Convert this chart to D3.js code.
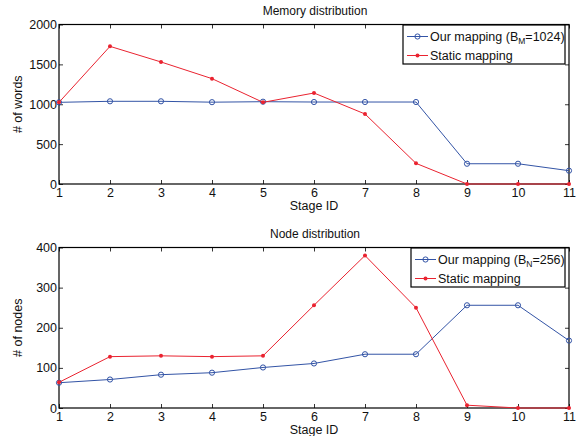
<!DOCTYPE html>
<html>
<head>
<meta charset="utf-8">
<script src="https://cdn.jsdelivr.net/npm/d3@7"></script>
<style>
  body { margin: 0; background: #fff; }
  svg text { font-family: "Liberation Sans", Arial, sans-serif; fill: #111; }
</style>
</head>
<body>
<div id="vis"></div>
<script>
// stage ids shared by both panels
const stages = [1, 2, 3, 4, 5, 6, 7, 8, 9, 10, 11];

// memory distribution (# of words)
const memOurs = [1024, 1037, 1037, 1026, 1032, 1028, 1028, 1028, 254, 254, 167];
const memStatic = [1024, 1726, 1530, 1321, 1024, 1141, 878, 259, 0, 0, 0];
const memTicks = [0, 500, 1000, 1500, 2000];

// node distribution (# of nodes)
const nodeOurs = [63, 71, 83, 88, 101, 111, 134, 134, 256, 256, 168];
const nodeStatic = [64, 128, 130, 128, 130, 256, 380, 250, 7, 0, 0];
const nodeTicks = [0, 100, 200, 300, 400];

let width = 579;
let height = 436;
let blue = '#3354a6';
let red = '#ea2330';

let svg = d3.select('#vis').append('svg')
  .attr('width', width)
  .attr('height', height);

/**
 * drawPanel - one matlab style axes box with two series
 */
function drawPanel(opts) {
  let left = 59, right = 569;
  let top = opts.top, bottom = opts.bottom;

  let x = d3.scaleLinear().domain([1, 11]).range([left, right]);
  let y = d3.scaleLinear().domain([0, opts.yMax]).range([bottom, top]);

  let g = svg.append('g');

  // title
  g.append('text')
    .attr('x', (left + right) / 2 + 1)
    .attr('y', top - 10)
    .attr('text-anchor', 'middle')
    .style('font-size', '12px')
    .text(opts.title);

  // axes box
  g.append('rect')
    .attr('x', left).attr('y', top)
    .attr('width', right - left).attr('height', bottom - top)
    .attr('fill', 'none')
    .attr('stroke', '#000')
    .attr('stroke-width', 1.2);

  // inward ticks: bottom/top and left/right
  let xAxis = d3.axisBottom(x).tickValues(stages).tickSize(-4).tickPadding(4);
  let xAxisTop = d3.axisTop(x).tickValues(stages).tickSize(-4).tickFormat('');
  let yAxis = d3.axisLeft(y).tickValues(opts.ticks).tickSize(-4).tickPadding(2)
    .tickFormat(d3.format('d'));
  let yAxisRight = d3.axisRight(y).tickValues(opts.ticks).tickSize(-4).tickFormat('');

  let gx = g.append('g').attr('transform', 'translate(0,' + bottom + ')').call(xAxis);
  g.append('g').attr('transform', 'translate(0,' + top + ')').call(xAxisTop);
  let gy = g.append('g').attr('transform', 'translate(' + left + ',0)').call(yAxis);
  g.append('g').attr('transform', 'translate(' + right + ',0)').call(yAxisRight);

  g.selectAll('.domain').remove();
  g.selectAll('.tick line').attr('stroke', '#000').attr('stroke-width', 0.8);
  gx.selectAll('text').style('font-size', '12.5px').attr('dy', '0.75em');
  gy.selectAll('text').style('font-size', '12.5px');

  // axis labels
  g.append('text')
    .attr('x', (left + right) / 2)
    .attr('y', bottom + 26)
    .attr('text-anchor', 'middle')
    .style('font-size', '12.5px')
    .text('Stage ID');

  g.append('text')
    .attr('transform', 'translate(22,' + (top + bottom) / 2 + ') rotate(-90)')
    .attr('text-anchor', 'middle')
    .style('font-size', '12.5px')
    .text(opts.yLabel);

  let line = d3.line()
    .x((d, i) => x(stages[i]))
    .y(d => y(d));

  // our mapping (blue, open circles)
  g.append('path')
    .attr('d', line(opts.ours))
    .attr('fill', 'none')
    .attr('stroke', blue)
    .attr('stroke-width', 1);
  g.selectAll('.ours').data(opts.ours).enter().append('circle')
    .attr('cx', (d, i) => x(stages[i]))
    .attr('cy', d => y(d))
    .attr('r', 2.6)
    .attr('fill', 'none')
    .attr('stroke', blue)
    .attr('stroke-width', 1);

  // static mapping (red, dots)
  g.append('path')
    .attr('d', line(opts.stat))
    .attr('fill', 'none')
    .attr('stroke', red)
    .attr('stroke-width', 1);
  g.selectAll('.stat').data(opts.stat).enter().append('circle')
    .attr('cx', (d, i) => x(stages[i]))
    .attr('cy', d => y(d))
    .attr('r', 2)
    .attr('fill', red);

  // legend
  let lg = g.append('g');
  lg.append('rect')
    .attr('x', opts.legX).attr('y', top + 0.5)
    .attr('width', 565 - opts.legX).attr('height', 39)
    .attr('fill', '#fff')
    .attr('stroke', '#000')
    .attr('stroke-width', 1.2);

  let rows = [
    { color: blue, open: true, y: top + 12 },
    { color: red, open: false, y: top + 31 }
  ];
  rows.forEach(function (r) {
    lg.append('line')
      .attr('x1', opts.legX + 4).attr('x2', opts.legX + 25)
      .attr('y1', r.y).attr('y2', r.y)
      .attr('stroke', r.color).attr('stroke-width', 1);
    lg.append('circle')
      .attr('cx', opts.legX + 14.5).attr('cy', r.y)
      .attr('r', r.open ? 2.6 : 2)
      .attr('fill', r.open ? 'none' : r.color)
      .attr('stroke', r.open ? r.color : 'none');
  });

  let t1 = lg.append('text')
    .attr('x', opts.legX + 27).attr('y', rows[0].y + 4.5)
    .style('font-size', '12.5px');
  t1.append('tspan').text('Our mapping (B');
  t1.append('tspan').attr('dy', 3).style('font-size', '8.5px').text(opts.sub);
  t1.append('tspan').attr('dy', -3).text('=' + opts.param + ')');

  lg.append('text')
    .attr('x', opts.legX + 27).attr('y', rows[1].y + 4.5)
    .style('font-size', '12.5px')
    .text('Static mapping');
}

drawPanel({
  top: 24.5, bottom: 184, yMax: 2000, ticks: memTicks,
  title: 'Memory distribution', yLabel: '# of words',
  ours: memOurs, stat: memStatic,
  legX: 403, sub: 'M', param: 1024
});

drawPanel({
  top: 247.5, bottom: 408, yMax: 400, ticks: nodeTicks,
  title: 'Node distribution', yLabel: '# of nodes',
  ours: nodeOurs, stat: nodeStatic,
  legX: 411, sub: 'N', param: 256
});
</script>
</body>
</html>
